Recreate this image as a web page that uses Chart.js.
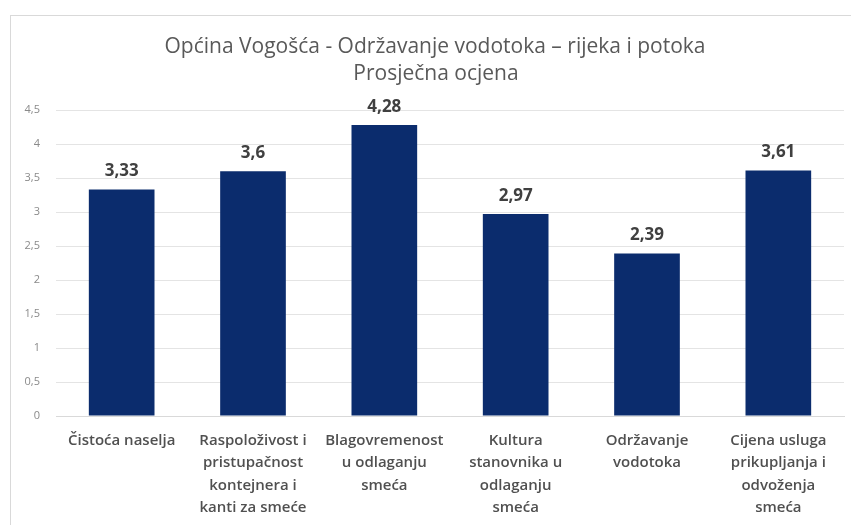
<!DOCTYPE html>
<html>
<head>
<meta charset="utf-8">
<script src="https://cdn.jsdelivr.net/npm/chart.js@4"></script>
<style>
  body { margin: 0; background: #fff; }
  #wrap { position: relative; width: 851px; height: 525px; overflow: hidden; }
  #frame { position: absolute; left: 10px; top: 15px; width: 900px; height: 600px; border: 1px solid #d9d9d9; }
  canvas { position: absolute; left: 0; top: 0; }
</style>
</head>
<body>
<div id="wrap">
  <div id="frame"></div>
  <canvas id="myChart" width="851" height="525"></canvas>
</div>
<script>
// chart data
const categories = [
  ["Čistoća naselja"],
  ["Raspoloživost i", "pristupačnost", "kontejnera i", "kanti za smeće"],
  ["Blagovremenost", "u odlaganju", "smeća"],
  ["Kultura", "stanovnika u", "odlaganju", "smeća"],
  ["Održavanje", "vodotoka"],
  ["Cijena usluga", "prikupljanja i", "odvoženja", "smeća"]
];
const values = [3.33, 3.6, 4.28, 2.97, 2.39, 3.61];
const titleLines = ["Općina Vogošća - Održavanje vodotoka – rijeka i potoka", "Prosječna ocjena"];

const fmt = v => String(v).replace(".", ",");

// title drawn by hand so both lines sit where the original has them
const titlePlugin = {
  id: "twoLineTitle",
  afterDraw(chart) {
    const c = chart.ctx;
    c.save();
    c.font = '21px "Open Sans"';
    c.fillStyle = "#595959";
    c.textAlign = "center";
    c.textBaseline = "middle";
    c.fillText(titleLines[0], 435, 47);
    c.fillText(titleLines[1], 436, 74);
    c.restore();
  }
};

// value labels above each bar
const valueLabels = {
  id: "valueLabels",
  afterDatasetsDraw(chart) {
    const c = chart.ctx;
    const meta = chart.getDatasetMeta(0);
    c.save();
    c.font = 'bold 17px "Open Sans"';
    c.fillStyle = "#404040";
    c.textAlign = "center";
    c.textBaseline = "middle";
    meta.data.forEach((bar, i) => {
      c.fillText(fmt(values[i]), bar.x, bar.y - 18);
    });
    c.restore();
  }
};

const ctx = document.getElementById("myChart");

new Chart(ctx, {
  type: "bar",
  data: {
    labels: categories,
    datasets: [{
      data: values,
      backgroundColor: "#0b2c6d",
      borderWidth: 0,
      categoryPercentage: 1,
      barPercentage: 0.5
    }]
  },
  options: {
    responsive: false,
    animation: false,
    layout: { padding: { left: 10, right: 7, top: 110, bottom: 0 } },
    plugins: {
      legend: { display: false },
      title: { display: false },
      tooltip: { enabled: false }
    },
    scales: {
      x: {
        grid: { display: false },
        border: { color: "#d9d9d9" },
        ticks: {
          color: "#505050",
          font: { family: "Open Sans", size: 15, weight: "600", lineHeight: 1.5 },
          padding: 5,
          maxRotation: 0,
          autoSkip: false
        },
        afterFit(scale) { scale.height = 109; }
      },
      y: {
        min: 0,
        max: 4.5,
        border: { display: false },
        grid: { color: "#e4e4e4", drawTicks: false },
        ticks: {
          stepSize: 0.5,
          color: "#8a8a8a",
          padding: 16,
          font: { family: "Open Sans", size: 11 },
          callback: v => fmt(v)
        },
        afterFit(scale) { scale.width = 46; }
      }
    }
  },
  plugins: [titlePlugin, valueLabels]
});
</script>
</body>
</html>
